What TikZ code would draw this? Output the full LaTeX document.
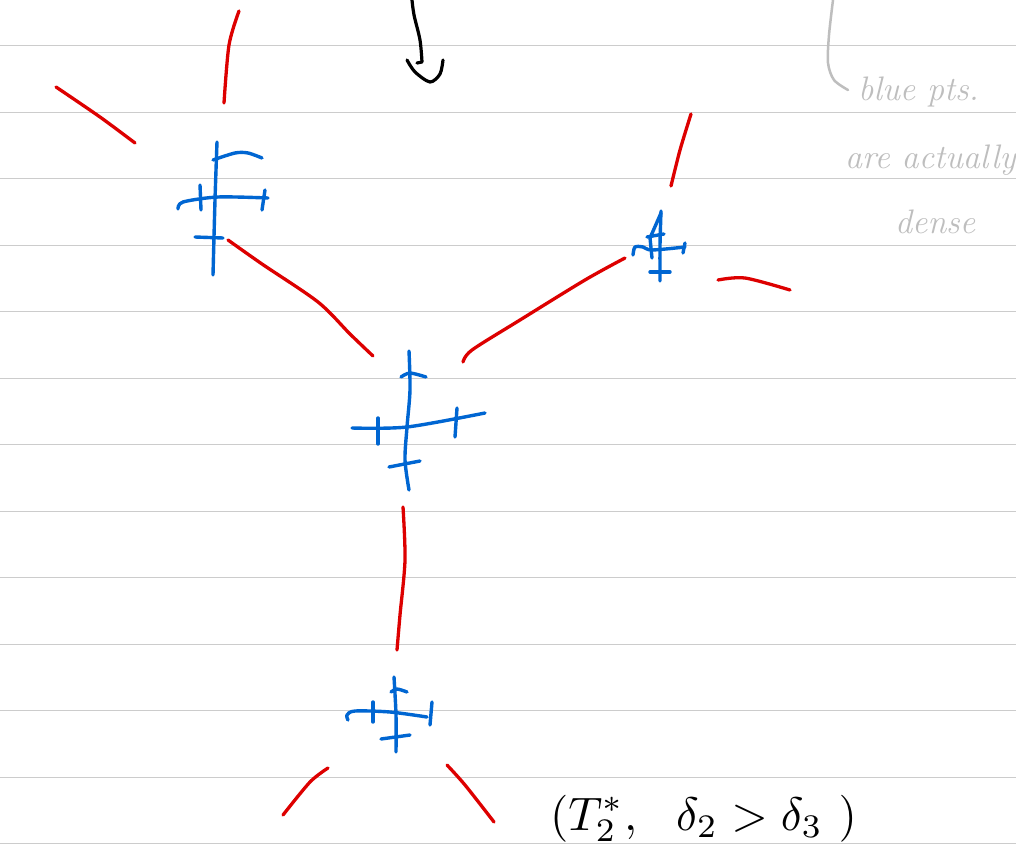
\documentclass[tikz,border=0pt]{standalone}
\usepackage{fontspec}
\begin{document}
\begin{tikzpicture}[x=1pt,y=-1pt,
  rule/.style={draw=ruleGray,line width=1pt},
  redstroke/.style={draw=inkRed,line width=3.3pt,line cap=round,line join=round},
  bluestroke/.style={draw=inkBlue,line width=3.4pt,line cap=round,line join=round},
  blackstroke/.style={draw=black,line width=3.2pt,line cap=round,line join=round},
  graystroke/.style={draw=noteGray,line width=2.5pt,line cap=round,line join=round},
  note/.style={text=noteGray,font=\itshape\fontsize{34}{36}\selectfont,anchor=base west,inner sep=0pt},
]
\definecolor{ruleGray}{RGB}{204,204,204}
\definecolor{inkRed}{RGB}{221,0,0}
\definecolor{inkBlue}{RGB}{0,102,210}
\definecolor{noteGray}{RGB}{190,190,190}
\useasboundingbox (0,0) rectangle (1016,867);
\clip (0,0) rectangle (1016,867);
\fill[white] (0,0) rectangle (1016,867);
% ruled lines
\foreach \k in {0,...,12}{
  \draw[rule] (0,45.5+66.5*\k) -- (1016,45.5+66.5*\k);
}
% red strokes
\draw[redstroke] plot[smooth] coordinates {(239,11) (229,45) (224,103)};
\draw[redstroke] plot[smooth] coordinates {(56,87) (100,117) (135,143)};
\draw[redstroke] plot[smooth] coordinates {(228,240) (262,264) (318,302) (350,334) (373,356)};
\draw[redstroke] plot[smooth] coordinates {(463,362) (472,350) (520,320) (585,280) (625,258)};
\draw[redstroke] plot[smooth] coordinates {(691,114) (680,150) (671,186)};
\draw[redstroke] plot[smooth] coordinates {(718,280) (745,278) (790,290)};
\draw[redstroke] plot[smooth] coordinates {(403,507) (405,560) (400,615) (397,650)};
\draw[redstroke] plot[smooth] coordinates {(328,768) (310,782) (283,815)};
\draw[redstroke] plot[smooth] coordinates {(447,765) (465,785) (494,822)};
% blue cross 1
\draw[bluestroke] plot[smooth] coordinates {(217,142) (215,200) (213,275)};
\draw[bluestroke] plot[smooth] coordinates {(178,209) (183,202) (218,197) (268,198)};
\draw[bluestroke] (200,185) -- (201,210);
\draw[bluestroke] (265,190) -- (262,210);
\draw[bluestroke] plot[smooth] coordinates {(213,160) (235,153) (248,153) (262,158)};
\draw[bluestroke] (195,237) -- (223,238);
% blue cross 2
\draw[bluestroke] plot[smooth] coordinates {(409,351) (410,390) (407,427) (405,460) (409,490)};
\draw[bluestroke] plot[smooth] coordinates {(401,377) (410,373) (426,377)};
\draw[bluestroke] plot[smooth] coordinates {(352,428) (407,427) (485,413)};
\draw[bluestroke] (378,418) -- (378,444);
\draw[bluestroke] (457,408) -- (455,437);
\draw[bluestroke] (389,467) -- (420,461);
% blue cross 3
\draw[bluestroke] plot[smooth] coordinates {(661,211) (660,245) (660,281)};
\draw[bluestroke] (661,213) -- (650,238) -- (652,258);
\draw[bluestroke] (647,237) -- (664,234);
\draw[bluestroke] plot[smooth] coordinates {(633,255) (635,247) (643,247) (652,250) (685,247)};
\draw[bluestroke] (685,243) -- (683,253);
\draw[bluestroke] (650,272) -- (670,272);
% blue cross 4
\draw[bluestroke] plot[smooth] coordinates {(394,677) (396,715) (396,752)};
\draw[bluestroke] plot[smooth] coordinates {(391,692) (397,689) (407,692)};
\draw[bluestroke] plot[smooth] coordinates {(348,720) (347,715) (355,711) (390,712) (427,717)};
\draw[bluestroke] (373,702) -- (373,722);
\draw[bluestroke] (432,702) -- (430,725);
\draw[bluestroke] (381,739) -- (410,735);
% black arrow at the top
\draw[blackstroke] plot[smooth] coordinates {(412,0) (414,15) (420,40) (422,62)} -- (417,63);
\draw[blackstroke] plot[smooth] coordinates {(407,60) (415,72) (430,82) (440,74) (443,60)};
% gray note
\draw[graystroke] plot[smooth] coordinates {(833,0) (829,35) (828,63) (834,80) (848,90)};
\node[note] (n1) at (858,100) {blue pts.};
\node[note] (n2) at (845,168) {are actually};
\node[note] (n3) at (895,233) {dense};
% bottom formula
\node[anchor=base west,inner sep=0pt] (f) at (550,830)
  {\scalebox{4.7}{$(T_2^{*},\ \ \delta_2>\delta_3\ )$}};
\end{tikzpicture}
\end{document}
